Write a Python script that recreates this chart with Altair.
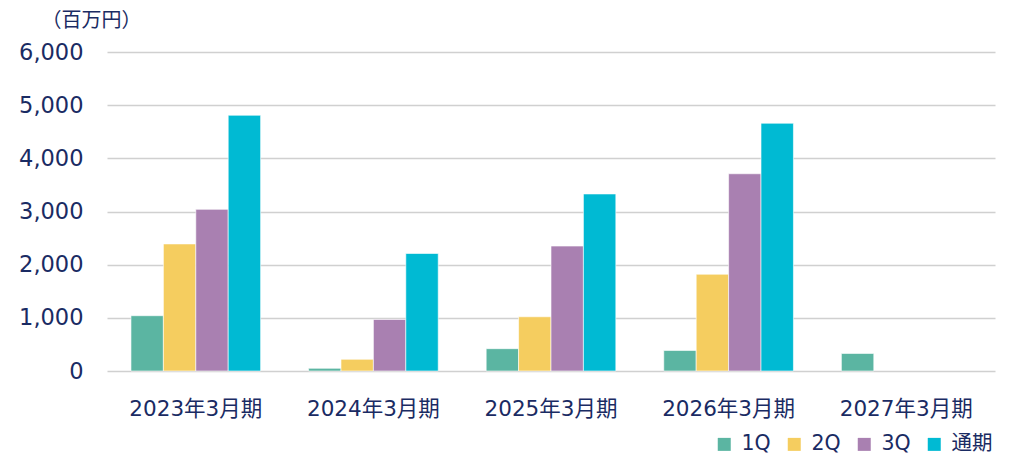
import altair as alt
import pandas as pd

years = ["2023年3月期", "2024年3月期", "2025年3月期", "2026年3月期", "2027年3月期"]
series = ["1Q", "2Q", "3Q", "通期"]
q1 = [1040, 50, 420, 385, 330]
q2 = [2390, 220, 1020, 1820, None]
q3 = [3040, 970, 2350, 3710, None]
full = [4810, 2210, 3330, 4660, None]
colors = ["#5BB5A2", "#F5CD5F", "#A980B1", "#00BAD3"]

rows = []
for s, vals in zip(series, [q1, q2, q3, full]):
    for y, v in zip(years, vals):
        if v is not None:
            rows.append({"year": y, "series": s, "value": v})
df = pd.DataFrame(rows)

FONT = "DejaVu Sans, Noto Sans CJK JP"
NAVY = "#1A2B63"

chart = alt.Chart(df).mark_bar(stroke="white", strokeWidth=0.6).encode(
    x=alt.X("year:N", sort=years, title=None,
            scale=alt.Scale(paddingInner=0.27, paddingOuter=0.135),
            axis=alt.Axis(labelAngle=0, labelFontSize=21.5, labelColor=NAVY, labelFont=FONT,
                          labelPadding=27, ticks=False, domain=False)),
    xOffset=alt.XOffset("series:N", sort=series),
    y=alt.Y("value:Q", scale=alt.Scale(domain=[0, 6000]),
            axis=alt.Axis(values=[0, 1000, 2000, 3000, 4000, 5000, 6000], format=",d",
                          labelFontSize=22.5, labelColor=NAVY, labelFont=FONT, labelPadding=24,
                          ticks=False, domain=False, gridColor="#D0D0D0", gridWidth=1.3,
                          title="（百万円）", titleAngle=0, titleAlign="left", titleBaseline="middle",
                          titleX=-66, titleY=-32, titleFontSize=20, titleFontWeight="normal",
                          titleColor=NAVY, titleFont=FONT)),
    color=alt.Color("series:N", sort=series,
                    scale=alt.Scale(domain=series, range=colors),
                    legend=alt.Legend(title=None, orient="none", direction="horizontal",
                                      legendX=607, legendY=382, columns=4, symbolType="square",
                                      symbolSize=169, symbolStrokeWidth=0, labelFontSize=20.5,
                                      labelColor=NAVY, labelFont=FONT, labelOffset=7,
                                      columnPadding=13)),
).properties(
    width=888, height=319,
    autosize=alt.AutoSizeParams(type="none"),
    padding={"left": 99, "top": 44, "right": 21, "bottom": 90},
).configure_view(stroke=None)

chart.save("out.html", embed_options={"renderer": "svg", "actions": False})
